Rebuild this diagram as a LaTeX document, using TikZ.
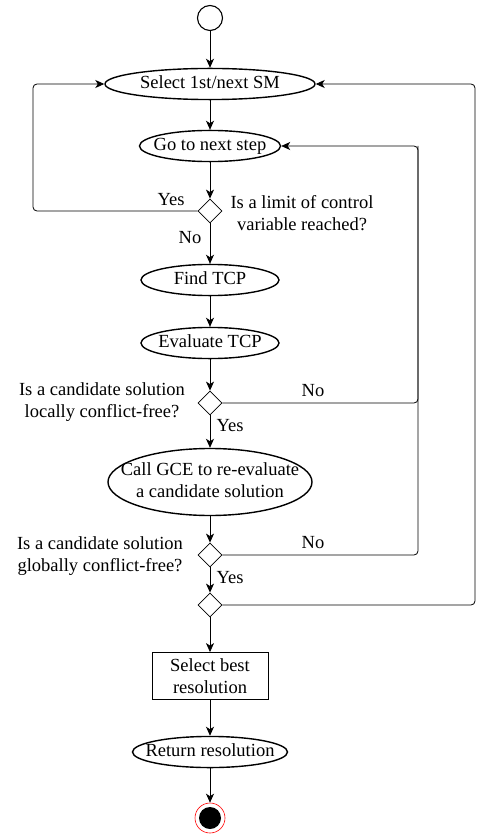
\documentclass[tikz,border=0pt]{standalone}
\usepackage{fontspec}
\setmainfont{Liberation Serif}
\usetikzlibrary{shapes,arrows,arrows.meta}
\usetikzlibrary{calc}
\usetikzlibrary{positioning}
\tikzstyle{activity} = [draw, ellipse, line width=1.4pt, inner sep=0pt]
\tikzstyle{decision} = [draw, diamond, inner sep=0pt, minimum size=24pt]
\tikzstyle{block} = [draw, rectangle, minimum height=47pt, minimum width=116pt, align=center]
\tikzstyle{junction} = [coordinate]
\newcommand{\inside}[1]{\makebox[0pt]{\begin{tabular}{@{}c@{}}#1\end{tabular}}}

\begin{document}
\begin{tikzpicture}[x=1pt, y=-1pt, >={Stealth[length=9pt,width=8pt,inset=2.5pt]}, line width=0.8pt,
    font=\rmfamily\fontsize{18.5}{22}\selectfont]
    \useasboundingbox (0,0) rectangle (476,834);

    % main column
    \node[draw, circle, line width=1.1pt, minimum size=25pt, inner sep=0pt] at (210,18) (start) {};
    \node[activity, minimum width=210pt, minimum height=25pt] at (210,84) (selsm) {\inside{Select 1st/next SM}};
    \node[activity, minimum width=141pt, minimum height=26pt] at (210,146) (nextstep) {\inside{Go to next step}};
    \node[decision] at (210,211) (limit) {};
    \node[activity, minimum width=138pt, minimum height=28pt] at (210,280) (findtcp) {\inside{Find TCP}};
    \node[activity, minimum width=138pt, minimum height=29pt] at (210,343) (evaltcp) {\inside{Evaluate TCP}};
    \node[decision] at (210,403) (local) {};
    \node[activity, minimum width=204pt, minimum height=67pt] at (210,482) (gce) {\inside{Call GCE to re-evaluate\\a candidate solution}};
    \node[decision] at (210,555) (global) {};
    \node[decision] at (210,605) (merge) {};
    \node[block] at (210,676) (best) {Select best\\resolution};
    \node[activity, minimum width=155pt, minimum height=30pt] at (210,752) (ret) {\inside{Return resolution}};
    \node[circle, fill=black, minimum size=22pt, inner sep=0pt] at (210,818) (stop) {};
    \node[circle, draw=red, line width=0.6pt, minimum size=30pt, inner sep=0pt] at (210,818) (stopring) {};

    \draw[->] (start) -- (selsm);
    \draw[->] (selsm) -- (nextstep);
    \draw[->] (nextstep) -- (limit);
    \draw[->] (limit) -- (findtcp);
    \draw[->] (findtcp) -- (evaltcp);
    \draw[->] (evaltcp) -- (local);
    \draw[->] (local) -- (gce);
    \draw[->] (gce) -- (global);
    \draw[->] (global) -- (merge);
    \draw[->] (merge) -- (best);
    \draw[->] (best) -- (ret);
    \draw[->] (ret) -- (stopring);

    % questions and branch labels
    \node[align=center] at (302,213) (qlimit) {Is a limit of control\\variable reached?};
    \node[align=center] at (102,402) (qlocal) {Is a candidate solution\\locally conflict-free?};
    \node[align=center] at (100,556) (qglobal) {Is a candidate solution\\globally conflict-free?};
    \node at (171,200) (yes1) {Yes};
    \node at (190,238) (no1) {No};
    \node at (313,391) (no2) {No};
    \node at (230,426) (yes2) {Yes};
    \node at (313,543) (no3) {No};
    \node at (230,578) (yes3) {Yes};

    % loops back
    \node[junction] at (33,84) (leftback) {};
    \node[junction] at (418,146) (stepback) {};
    \node[junction] at (475,84) (rightback) {};
    \draw[->, rounded corners=4pt] (limit.west) -| (leftback) -- (selsm.west);
    \draw[rounded corners=4pt] (local.east) -| (stepback);
    \draw[->, rounded corners=4pt] (global.east) -| (stepback) -- (nextstep.east);
    \draw[->, rounded corners=4pt] (merge.east) -| (rightback) -- (selsm.east);
\end{tikzpicture}
\end{document}
